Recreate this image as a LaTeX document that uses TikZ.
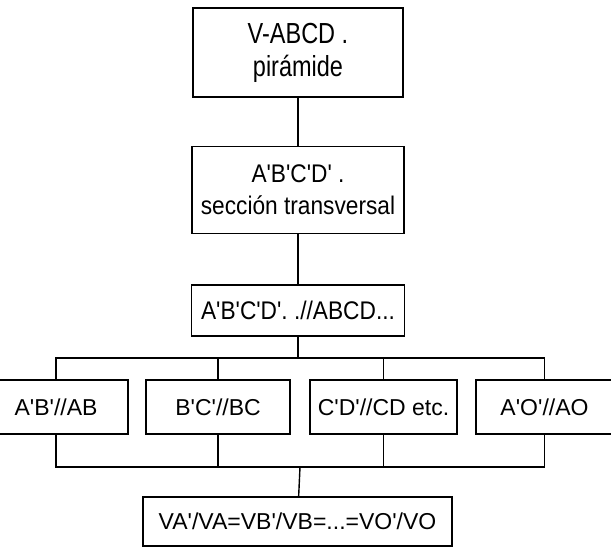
\documentclass[tikz,border=0pt]{standalone}
\usepackage{fontspec}
\setmainfont{Liberation Sans}[Ligatures=TeXOff]
\newfontfamily\slimfont{Liberation Sans}[Ligatures=TeXOff,FakeStretch=0.81]
\newfontfamily\narrowfont{Liberation Sans}[Ligatures=TeXOff,FakeStretch=0.89]
\usetikzlibrary{positioning}

\begin{document}
\begin{tikzpicture}[x=1pt,y=-1pt,
  font=\fontsize{23}{27.6}\selectfont,
  box/.style={draw,line width=1.4pt,align=center,inner sep=0pt},
  head/.style={box,font=\narrowfont\fontsize{25.5}{31.7}\selectfont},
  item/.style={box,minimum height=54pt},
  link/.style={line width=1.4pt}
]
\useasboundingbox (0,0) rectangle (611,549);
\node[box,minimum width=210pt,minimum height=89pt,
  font=\slimfont\fontsize{29}{33}\selectfont] (pyr) at (298,52.5) {V-ABCD .\\pirámide};
\node[head,minimum width=212pt,minimum height=87pt,below=48pt of pyr] (sec) {A'B'C'D' .\\sección transversal};
\node[head,minimum width=213pt,minimum height=51pt,below=50pt of sec] (par) {A'B'C'D'. .//ABCD...};
\node[item,minimum width=144pt] (ab) at (56,407) {A'B'//AB};
\node[item,minimum width=144pt] (bc) at (218,407) {B'C'//BC};
\node[item,minimum width=147pt] (cd) at (383.5,407) {C'D'//CD etc.};
\node[item,minimum width=137pt] (ao) at (544.5,407) {A'O'//AO};
\node[box,minimum width=309pt,minimum height=49pt] (ratio) at (297.5,521.5) {VA'/VA=VB'/VB=...=VO'/VO};
\coordinate (fork) at (300,358);
\coordinate (join) at (300,467);
\draw[link] (pyr)--(sec)--(par);
\draw[link] (par.south)--(par.south |- fork);
\draw[link] (ab.north)|-(fork)-|(ao.north);
\draw[link] (bc.north)--(bc.north |- fork);
\draw[link] (cd.north)--(cd.north |- fork);
\draw[link] (ab.south)|-(join)-|(ao.south);
\draw[link] (bc.south)--(bc.south |- join);
\draw[link] (cd.south)--(cd.south |- join);
\draw[link] (join)--(ratio);
\end{tikzpicture}
\end{document}
